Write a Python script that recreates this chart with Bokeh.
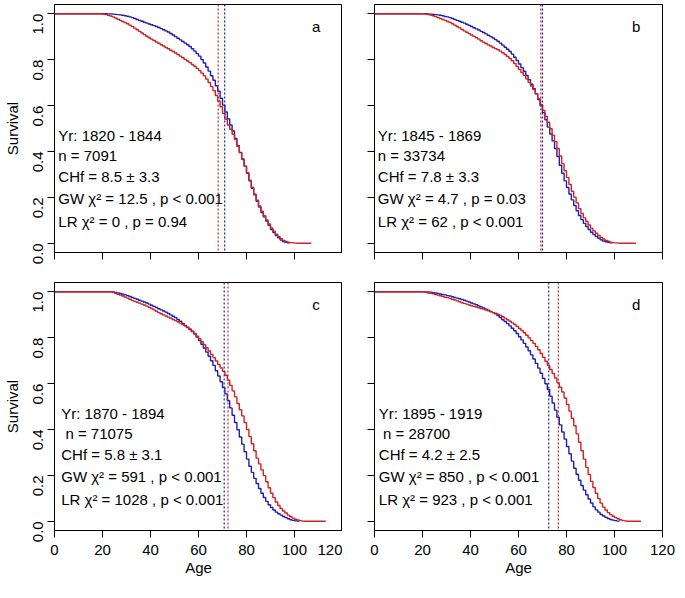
import math
from bokeh.plotting import figure
from bokeh.layouts import gridplot
from bokeh.models import Range1d, Span, FixedTicker, CustomJSTickFormatter
from bokeh.core.properties import value
from bokeh.embed import file_html
from bokeh.resources import INLINE

# ---------------- data (yearly Kaplan-Meier survival values) ----------------
x_ticks = [0, 20, 40, 60, 80, 100, 120]
y_ticks = [0.0, 0.2, 0.4, 0.6, 0.8, 1.0]
panel_letters = ["a", "b", "c", "d"]

blue_a_start = 20
blue_a = [1.000, 1.000, 0.999, 0.999, 0.998, 0.997, 0.996, 0.995, 0.993, 0.991,
          0.989, 0.986, 0.983, 0.979, 0.975, 0.971, 0.967, 0.963, 0.959, 0.955,
          0.952, 0.948, 0.944, 0.940, 0.935, 0.930, 0.925, 0.920, 0.914, 0.907,
          0.900, 0.893, 0.886, 0.879, 0.872, 0.865, 0.857, 0.847, 0.837, 0.826,
          0.815, 0.800, 0.785, 0.768, 0.750, 0.730, 0.710, 0.686, 0.662, 0.632,
          0.602, 0.572, 0.542, 0.515, 0.489, 0.457, 0.425, 0.396, 0.367, 0.336,
          0.305, 0.272, 0.240, 0.211, 0.183, 0.158, 0.134, 0.115, 0.097, 0.078,
          0.060, 0.047, 0.034, 0.024, 0.014, 0.008, 0.004, 0.002, 0.000]
blue_a_end = 98
red_a_start = 19
red_a = [1.000, 0.998, 0.996, 0.993, 0.990, 0.986, 0.981, 0.976, 0.971, 0.966,
         0.961, 0.956, 0.950, 0.944, 0.937, 0.930, 0.923, 0.916, 0.909, 0.902,
         0.895, 0.889, 0.883, 0.877, 0.871, 0.865, 0.859, 0.853, 0.847, 0.841,
         0.835, 0.829, 0.822, 0.815, 0.808, 0.801, 0.794, 0.787, 0.779, 0.771,
         0.762, 0.752, 0.741, 0.729, 0.715, 0.700, 0.683, 0.665, 0.644, 0.620,
         0.595, 0.566, 0.540, 0.515, 0.497, 0.475, 0.452, 0.422, 0.394, 0.365,
         0.336, 0.307, 0.275, 0.244, 0.215, 0.188, 0.163, 0.140, 0.120, 0.102,
         0.084, 0.067, 0.053, 0.040, 0.029, 0.020, 0.013, 0.008, 0.005, 0.003,
         0.002, 0.001, 0.000]
red_a_end = 107

blue_b_start = 21
blue_b = [1.000, 0.999, 0.998, 0.997, 0.996, 0.995, 0.993, 0.991, 0.988, 0.986,
          0.983, 0.979, 0.975, 0.971, 0.967, 0.963, 0.959, 0.954, 0.949, 0.944,
          0.939, 0.934, 0.929, 0.923, 0.918, 0.912, 0.906, 0.900, 0.894, 0.887,
          0.880, 0.872, 0.863, 0.854, 0.845, 0.835, 0.824, 0.810, 0.796, 0.781,
          0.765, 0.749, 0.731, 0.713, 0.693, 0.673, 0.651, 0.626, 0.599, 0.569,
          0.538, 0.506, 0.476, 0.446, 0.413, 0.378, 0.340, 0.305, 0.272, 0.243,
          0.215, 0.189, 0.165, 0.142, 0.121, 0.103, 0.087, 0.073, 0.060, 0.048,
          0.038, 0.030, 0.022, 0.015, 0.010, 0.007, 0.004, 0.002, 0.000]
blue_b_end = 99
red_b_start = 20
red_b = [1.000, 0.998, 0.996, 0.994, 0.991, 0.987, 0.983, 0.979, 0.975, 0.971,
         0.966, 0.962, 0.956, 0.950, 0.944, 0.938, 0.931, 0.925, 0.919, 0.913,
         0.907, 0.901, 0.895, 0.889, 0.882, 0.876, 0.870, 0.864, 0.859, 0.853,
         0.848, 0.843, 0.837, 0.830, 0.822, 0.814, 0.805, 0.795, 0.783, 0.770,
         0.757, 0.744, 0.732, 0.716, 0.701, 0.685, 0.670, 0.651, 0.630, 0.605,
         0.579, 0.553, 0.527, 0.499, 0.471, 0.443, 0.413, 0.380, 0.347, 0.316,
         0.286, 0.256, 0.227, 0.201, 0.176, 0.151, 0.130, 0.111, 0.095, 0.080,
         0.066, 0.054, 0.044, 0.034, 0.026, 0.019, 0.013, 0.009, 0.005, 0.003,
         0.002, 0.001, 0.000]
red_b_end = 109

blue_c_start = 23
blue_c = [1.000, 0.999, 0.997, 0.995, 0.992, 0.989, 0.986, 0.983, 0.979, 0.975,
          0.971, 0.967, 0.963, 0.959, 0.955, 0.951, 0.946, 0.941, 0.936, 0.931,
          0.926, 0.921, 0.916, 0.911, 0.905, 0.899, 0.893, 0.887, 0.879, 0.871,
          0.862, 0.853, 0.844, 0.835, 0.826, 0.816, 0.802, 0.787, 0.771, 0.755,
          0.737, 0.719, 0.699, 0.679, 0.656, 0.633, 0.608, 0.583, 0.555, 0.525,
          0.494, 0.462, 0.430, 0.399, 0.367, 0.336, 0.303, 0.271, 0.240, 0.213,
          0.187, 0.165, 0.143, 0.122, 0.104, 0.087, 0.072, 0.060, 0.049, 0.040,
          0.033, 0.027, 0.021, 0.016, 0.011, 0.007, 0.004, 0.002, 0.001, 0.000]
blue_c_end = 102
red_c_start = 23
red_c = [1.000, 0.997, 0.993, 0.989, 0.985, 0.981, 0.977, 0.972, 0.967, 0.962,
         0.958, 0.954, 0.950, 0.946, 0.942, 0.937, 0.932, 0.927, 0.921, 0.915,
         0.909, 0.904, 0.899, 0.894, 0.889, 0.884, 0.879, 0.874, 0.869, 0.863,
         0.857, 0.851, 0.845, 0.838, 0.829, 0.818, 0.806, 0.795, 0.782, 0.769,
         0.756, 0.742, 0.727, 0.713, 0.698, 0.683, 0.668, 0.653, 0.636, 0.615,
         0.592, 0.568, 0.542, 0.513, 0.486, 0.459, 0.430, 0.400, 0.369, 0.338,
         0.307, 0.275, 0.250, 0.224, 0.199, 0.172, 0.146, 0.122, 0.103, 0.084,
         0.069, 0.056, 0.045, 0.036, 0.027, 0.020, 0.014, 0.009, 0.006, 0.003,
         0.001, 0.000]
red_c_end = 113

blue_d_start = 20
blue_d = [1.000, 0.999, 0.999, 0.998, 0.996, 0.994, 0.992, 0.990, 0.988, 0.986,
          0.983, 0.981, 0.978, 0.975, 0.972, 0.969, 0.966, 0.963, 0.959, 0.955,
          0.951, 0.947, 0.943, 0.938, 0.934, 0.929, 0.924, 0.919, 0.914, 0.909,
          0.904, 0.896, 0.887, 0.878, 0.870, 0.861, 0.851, 0.841, 0.830, 0.818,
          0.804, 0.790, 0.775, 0.759, 0.743, 0.725, 0.707, 0.688, 0.667, 0.645,
          0.622, 0.599, 0.574, 0.545, 0.515, 0.484, 0.453, 0.420, 0.389, 0.358,
          0.326, 0.294, 0.262, 0.231, 0.205, 0.179, 0.156, 0.136, 0.116, 0.097,
          0.080, 0.063, 0.050, 0.040, 0.030, 0.023, 0.017, 0.012, 0.008, 0.005,
          0.003, 0.001, 0.000]
blue_d_end = 102
red_d_start = 20
red_d = [1.000, 0.997, 0.994, 0.993, 0.991, 0.988, 0.985, 0.982, 0.979, 0.976,
         0.974, 0.971, 0.967, 0.964, 0.960, 0.956, 0.952, 0.949, 0.946, 0.942,
         0.939, 0.936, 0.933, 0.930, 0.927, 0.924, 0.920, 0.917, 0.913, 0.909,
         0.906, 0.902, 0.897, 0.891, 0.885, 0.878, 0.871, 0.864, 0.857, 0.849,
         0.840, 0.831, 0.821, 0.810, 0.799, 0.787, 0.775, 0.762, 0.747, 0.731,
         0.714, 0.697, 0.679, 0.661, 0.644, 0.624, 0.603, 0.584, 0.563, 0.537,
         0.509, 0.480, 0.449, 0.416, 0.381, 0.344, 0.307, 0.271, 0.235, 0.204,
         0.174, 0.147, 0.122, 0.099, 0.079, 0.062, 0.049, 0.038, 0.029, 0.022,
         0.016, 0.011, 0.007, 0.004, 0.002, 0.000]
red_d_end = 111

# mean ages (dotted vertical lines): (red, blue)
mean_a = (68.2, 70.9)
mean_b = (69.3, 70.0)
mean_c = (72.3, 70.7)
mean_d = (76.6, 72.6)

texts_a = ["Yr: 1820 - 1844", "n = 7091", "CHf = 8.5 \u00b1 3.3",
           "GW \u03c7\u00b2 = 12.5 , p < 0.001", "LR \u03c7\u00b2 = 0 , p = 0.94"]
texts_b = ["Yr: 1845 - 1869", "n = 33734", "CHf = 7.8 \u00b1 3.3",
           "GW \u03c7\u00b2 = 4.7 , p = 0.03", "LR \u03c7\u00b2 = 62 , p < 0.001"]
texts_c = ["Yr: 1870 - 1894", "\u00a0n = 71075", "CHf = 5.8 \u00b1 3.1",
           "GW \u03c7\u00b2 = 591 , p < 0.001", "LR \u03c7\u00b2 = 1028 , p < 0.001"]
texts_d = ["Yr: 1895 - 1919", "\u00a0n = 28700", "CHf = 4.2 \u00b1 2.5",
           "GW \u03c7\u00b2 = 850 , p < 0.001", "LR \u03c7\u00b2 = 923 , p < 0.001"]
text_rows = [0.470, 0.383, 0.292, 0.195, 0.093]
text_x = [1.6, 1.4, 2.8, 1.8]

BLUE = "#1f1fb0"
RED = "#d02222"
FONT = "Liberation Sans"


def curve(start, vals, end):
    xs = [0] + list(range(start, start + len(vals))) + [end]
    ys = [1.0] + list(vals) + [vals[-1]]
    return xs, ys


def make_panel(idx, blue, red, means, texts, left, bottom):
    top_row = idx < 2
    p = figure(
        output_backend="svg", toolbar_location=None,
        frame_width=288, frame_height=248,
        x_range=Range1d(0, 120), y_range=Range1d(-0.04, 1.04),
        min_border_left=48 if left else 32,
        min_border_right=0 if left else 13,
        min_border_top=4 if top_row else 0,
        min_border_bottom=30 if top_row else 52,
        background_fill_color="white", border_fill_color="white",
    )
    p.grid.visible = False
    p.outline_line_color = "black"
    p.outline_line_width = 1
    for ax in (p.xaxis[0], p.yaxis[0]):
        ax.axis_line_color = "black"
        ax.major_tick_out = 7
        ax.major_tick_in = 0
        ax.minor_tick_line_color = None
        ax.major_label_text_font = FONT
        ax.major_label_text_font_size = "15px"
        ax.major_label_text_color = "black"
        ax.axis_label_text_font = FONT
        ax.axis_label_text_font_size = "15px"
        ax.axis_label_text_font_style = "normal"
        ax.axis_label_text_color = "black"
    p.xaxis.ticker = FixedTicker(ticks=x_ticks)
    p.yaxis.ticker = FixedTicker(ticks=y_ticks)
    p.yaxis.major_label_orientation = math.pi / 2
    if bottom:
        p.xaxis.axis_label = "Age"
        p.xaxis.major_label_standoff = 7
        p.xaxis.axis_label_standoff = 1
    else:
        p.xaxis.formatter = CustomJSTickFormatter(code="return '';")
    if left:
        p.yaxis.axis_label = "Survival"
        p.yaxis.major_label_standoff = 9
        p.yaxis.axis_label_standoff = 5
        p.yaxis.formatter = CustomJSTickFormatter(code="return tick.toFixed(1);")
    else:
        p.yaxis.formatter = CustomJSTickFormatter(code="return '';")

    bx, by = curve(*blue)
    rx, ry = curve(*red)
    p.step(bx, by, mode="after", line_color=BLUE, line_width=1.4)
    p.step(rx, ry, mode="after", line_color=RED, line_width=1.4)

    p.add_layout(Span(location=means[0], dimension="height", line_color=RED,
                      line_dash="2 2", line_width=1.2))
    p.add_layout(Span(location=means[1], dimension="height", line_color=BLUE,
                      line_dash="2 2", line_width=1.2))

    p.text(x=[text_x[idx]] * len(texts), y=text_rows, text=texts,
           text_font=value(FONT), text_font_size="15px", text_color="black",
           text_baseline="alphabetic", text_align="left")
    p.text(x=[109], y=[0.945], text=[panel_letters[idx]],
           text_font=value(FONT), text_font_size="15px", text_color="black",
           text_baseline="middle", text_align="center")
    return p


pa = make_panel(0, (blue_a_start, blue_a, blue_a_end), (red_a_start, red_a, red_a_end),
                mean_a, texts_a, True, False)
pb = make_panel(1, (blue_b_start, blue_b, blue_b_end), (red_b_start, red_b, red_b_end),
                mean_b, texts_b, False, False)
pc = make_panel(2, (blue_c_start, blue_c, blue_c_end), (red_c_start, red_c, red_c_end),
                mean_c, texts_c, True, True)
pd = make_panel(3, (blue_d_start, blue_d, blue_d_end), (red_d_start, red_d, red_d_end),
                mean_d, texts_d, False, True)

grid = gridplot([[pa, pb], [pc, pd]], toolbar_location=None)

open("out.html", "w").write(file_html(grid, INLINE))
